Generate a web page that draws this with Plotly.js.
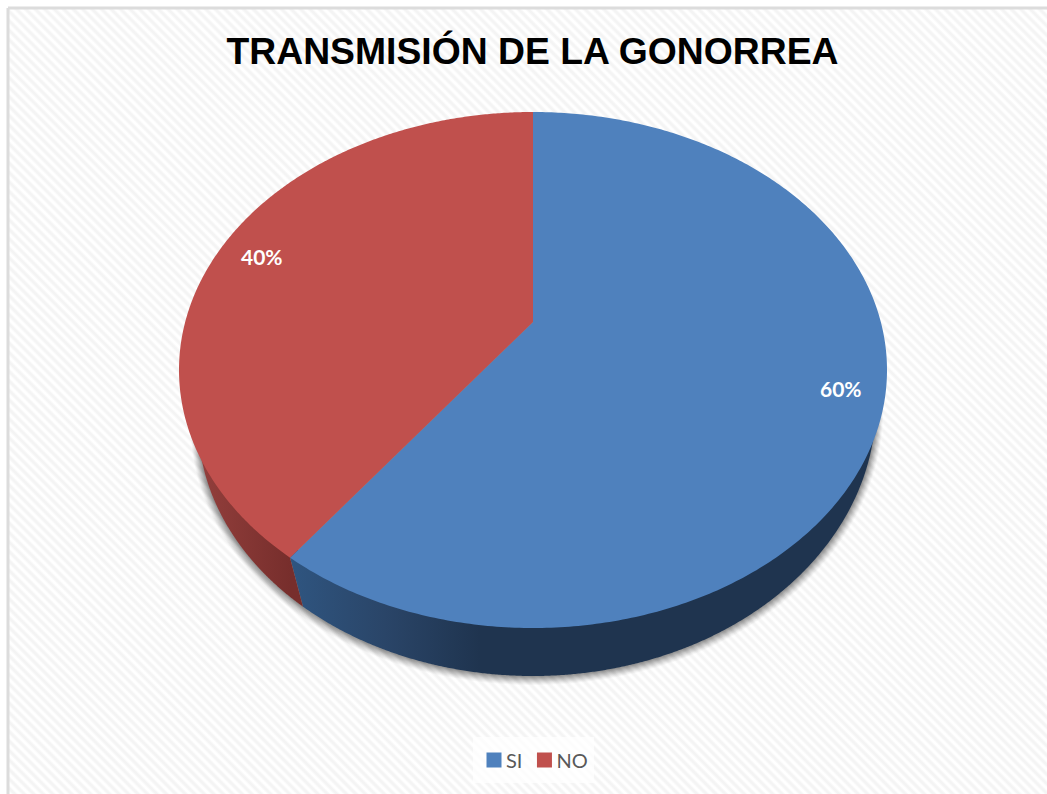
<!DOCTYPE html>
<html>
<head>
<meta charset="utf-8">
<script src="https://cdn.plot.ly/plotly-3.0.1.min.js"></script>
<style>
html,body{margin:0;padding:0;background:#fff;width:1047px;height:794px;overflow:hidden}
#hatch{position:absolute;left:9px;top:9px;width:1038px;height:785px;
background:repeating-linear-gradient(45deg,#ffffff 0px,#ffffff 1.4px,#f4f4f4 3.4px,#f4f4f4 4.8px,#ffffff 6.7px)}
#chart{position:absolute;left:0;top:0;width:1047px;height:794px}
</style>
</head>
<body>
<div id="hatch"></div>
<div id="chart"></div>
<script>
// ---- chart values ----
const categories = ['SI', 'NO'];
const values = [60, 40];
const topColors = ['#4f81bd', '#c0504d'];
const titleText = 'TRANSMISIÓN DE LA GONORREA';

// ---- projection of the tilted pie (unit circle = top-face rim) ----
const W = 1047, H = 794;
const cx = 533, cy = 370, rx = 354, ry = 258;     // top ellipse on the page
const apexV = 0.186, tilt = 0.967;                // the perspective shifts the apex upward
// lower rim: right half and left half have slightly different curves
const lowR = {rx: 343 / rx, ry: 271 / ry, cy: (370 - 405) / ry};
const lowL = {rx: 335 / rx, ry: 254 / ry, cy: (370 - 422) / ry};

const total = values.reduce((a, b) => a + b, 0);
function rimPoint(theta) {            // theta: clockwise from 12 o'clock, radians
  const dx = Math.sin(theta), dy = Math.cos(theta) * tilt;
  const a = dx * dx + dy * dy, b = 2 * apexV * dy, c = apexV * apexV - 1;
  const t = (-b + Math.sqrt(b * b - 4 * a * c)) / (2 * a);
  return [t * dx, apexV + t * dy, t];
}
function insidePoint(theta, f) {
  const p = rimPoint(theta);
  return [p[0] * f, apexV + (p[1] - apexV) * f];
}
function lowPoint(u) {                // lower-rim point at abscissa u
  const e = u < 0 ? lowL : lowR;
  const w = Math.max(0, 1 - (u / e.rx) * (u / e.rx));
  return [u, e.cy - e.ry * Math.sqrt(w)];
}
const steps = 360, traces = [];

// soft shadow under the rim
[[9, .028], [8, .036], [7, .042], [6, .05], [5, .056], [4, .062], [3, .07], [2, .075], [1, .075]].forEach(s => {
  const xs = [], ys = [];
  for (let i = 0; i <= steps; i++) {
    const a = i / steps * 2 * Math.PI;
    const e = Math.cos(a) < 0 ? lowL : lowR;
    xs.push((e.rx + (s[0] * 0.8) / rx) * Math.cos(a));
    ys.push(e.cy - (s[0] * 0.5) / ry + (e.ry + s[0] * 0.5 / ry) * Math.sin(a));
  }
  traces.push({type: 'scatter', mode: 'none', x: xs, y: ys, fill: 'toself',
    fillcolor: 'rgba(0,0,0,' + s[1] + ')', hoverinfo: 'skip', showlegend: false});
});

// side wall of each slice
const split = rimPoint(values[0] / total * 2 * Math.PI);
const splitLowU = (303 - cx) / rx;
function wall(fromU, toU, upperFn, grad) {
  const xs = [], ys = [];
  for (let i = 0; i <= steps; i++) {
    const u = fromU + (toU - fromU) * i / steps;
    const p = lowPoint(u); xs.push(p[0]); ys.push(p[1]);
  }
  upperFn(xs, ys);
  traces.push({type: 'scatter', mode: 'none', x: xs, y: ys, fill: 'toself',
    fillcolor: grad.colorscale[0][1], fillgradient: grad, hoverinfo: 'skip', showlegend: false});
}
// blue wall, from the slice split to the right edge
wall(splitLowU, lowR.rx, (xs, ys) => {
  for (let a = 0; a <= steps; a++) {
    const u = lowR.rx + (split[0] - lowR.rx) * a / steps;
    xs.push(u); ys.push(Math.min(lowR.cy + lowR.ry * 0.2, -Math.sqrt(Math.max(0, 1 - u * u)) + 0.05));
  }
  xs.push(split[0]); ys.push(split[1]);
}, {type: 'horizontal', start: split[0], stop: (480 - cx) / rx,
    colorscale: [[0, '#2f5580'], [0.5, '#2a4568'], [1, '#1f344f']]});
// red wall, from the left edge to the split
wall(-lowL.rx, splitLowU, (xs, ys) => {
  xs.push(split[0]); ys.push(split[1]);
  for (let a = 0; a <= steps; a++) {
    const u = split[0] + (-lowL.rx - split[0]) * a / steps;
    xs.push(u); ys.push(Math.max(-Math.sqrt(Math.max(0, 1 - u * u)) + 0.05, lowPoint(u)[1]));
  }
}, {type: 'horizontal', start: -lowL.rx, stop: split[0],
    colorscale: [[0, '#933f3c'], [1, '#772e2c']]});

// top face of each slice, drawn from the values
let start = 0;
const labelFactor = [0.877, 0.864], labelLift = [-4, -3], annots = [];
values.forEach((v, k) => {
  const end = start + v / total * 2 * Math.PI;
  const xs = [0], ys = [apexV];
  for (let i = 0; i <= steps; i++) {
    const p = rimPoint(start + (end - start) * i / steps);
    xs.push(p[0]); ys.push(p[1]);
  }
  xs.push(0); ys.push(apexV);
  traces.push({type: 'scatter', mode: 'none', x: xs, y: ys, fill: 'toself',
    fillcolor: topColors[k], hoverinfo: 'skip', showlegend: false, name: categories[k]});
  const m = insidePoint((start + end) / 2, labelFactor[k]);
  annots.push({x: m[0], y: m[1], xref: 'x', yref: 'y', showarrow: false, yshift: -labelLift[k],
    text: '<b>' + Math.round(v / total * 100) + '%</b>',
    font: {family: 'Lato, Carlito, sans-serif', size: 21, color: '#ffffff'}});
  start = end;
});

// legend entries
categories.forEach((c, k) => traces.push({type: 'scatter', mode: 'markers', x: [null], y: [null], name: c,
  marker: {symbol: 'square', size: 15, color: topColors[k]}, hoverinfo: 'skip'}));

const layout = {
  width: W, height: H,
  margin: {l: 0, r: 0, t: 0, b: 0},
  paper_bgcolor: 'rgba(0,0,0,0)', plot_bgcolor: 'rgba(0,0,0,0)',
  xaxis: {visible: false, fixedrange: true, range: [(0 - cx) / rx, (W - cx) / rx]},
  yaxis: {visible: false, fixedrange: true, range: [(cy - H) / ry, cy / ry]},
  title: {text: '<b>' + titleText + '</b>', x: 532.5 / W, xanchor: 'center', y: 1 - 51 / H, yanchor: 'middle',
    font: {family: 'Liberation Sans, Arial, sans-serif', size: 37.3, color: '#000000'}},
  legend: {orientation: 'h', x: 474 / W, xanchor: 'left', y: 1 - 760 / H, yanchor: 'middle',
    bgcolor: 'rgba(0,0,0,0)', itemwidth: 30, itemclick: false, itemdoubleclick: false,
    font: {family: 'Lato, Carlito, sans-serif', size: 20, color: '#595959'}},
  shapes: [
    {type: 'rect', xref: 'paper', yref: 'paper', x0: 473 / W, x1: 594 / W, y0: 1 - 783 / H, y1: 1 - 737 / H,
     fillcolor: 'rgba(255,255,255,0.75)', line: {width: 0}, layer: 'below'},
    {type: 'line', xref: 'paper', yref: 'paper', x0: 8 / W, x1: 8 / W, y0: 0, y1: 1 - 8 / H, line: {color: '#dcdcdc', width: 3}},
    {type: 'line', xref: 'paper', yref: 'paper', x0: 8 / W, x1: 1, y0: 1 - 8 / H, y1: 1 - 8 / H, line: {color: '#dcdcdc', width: 3}}
  ],
  annotations: annots,
  hovermode: false
};
Plotly.newPlot('chart', traces, layout, {displayModeBar: false}).then(gd => {
  // tighten the legend: text closer to its swatch, entries closer together
  const items = gd.querySelectorAll('.legend .traces');
  items.forEach((g, i) => {
    const t = g.querySelector('.legendtext');
    if (t) t.setAttribute('x', parseFloat(t.getAttribute('x')) - 8);
    if (i > 0) {
      const m = /translate\(([-\d.]+)[ ,]+([-\d.]+)\)/.exec(g.getAttribute('transform') || '');
      if (m) g.setAttribute('transform', 'translate(' + (parseFloat(m[1]) - 11 * i) + ',' + m[2] + ')');
    }
  });
});
</script>
</body>
</html>
